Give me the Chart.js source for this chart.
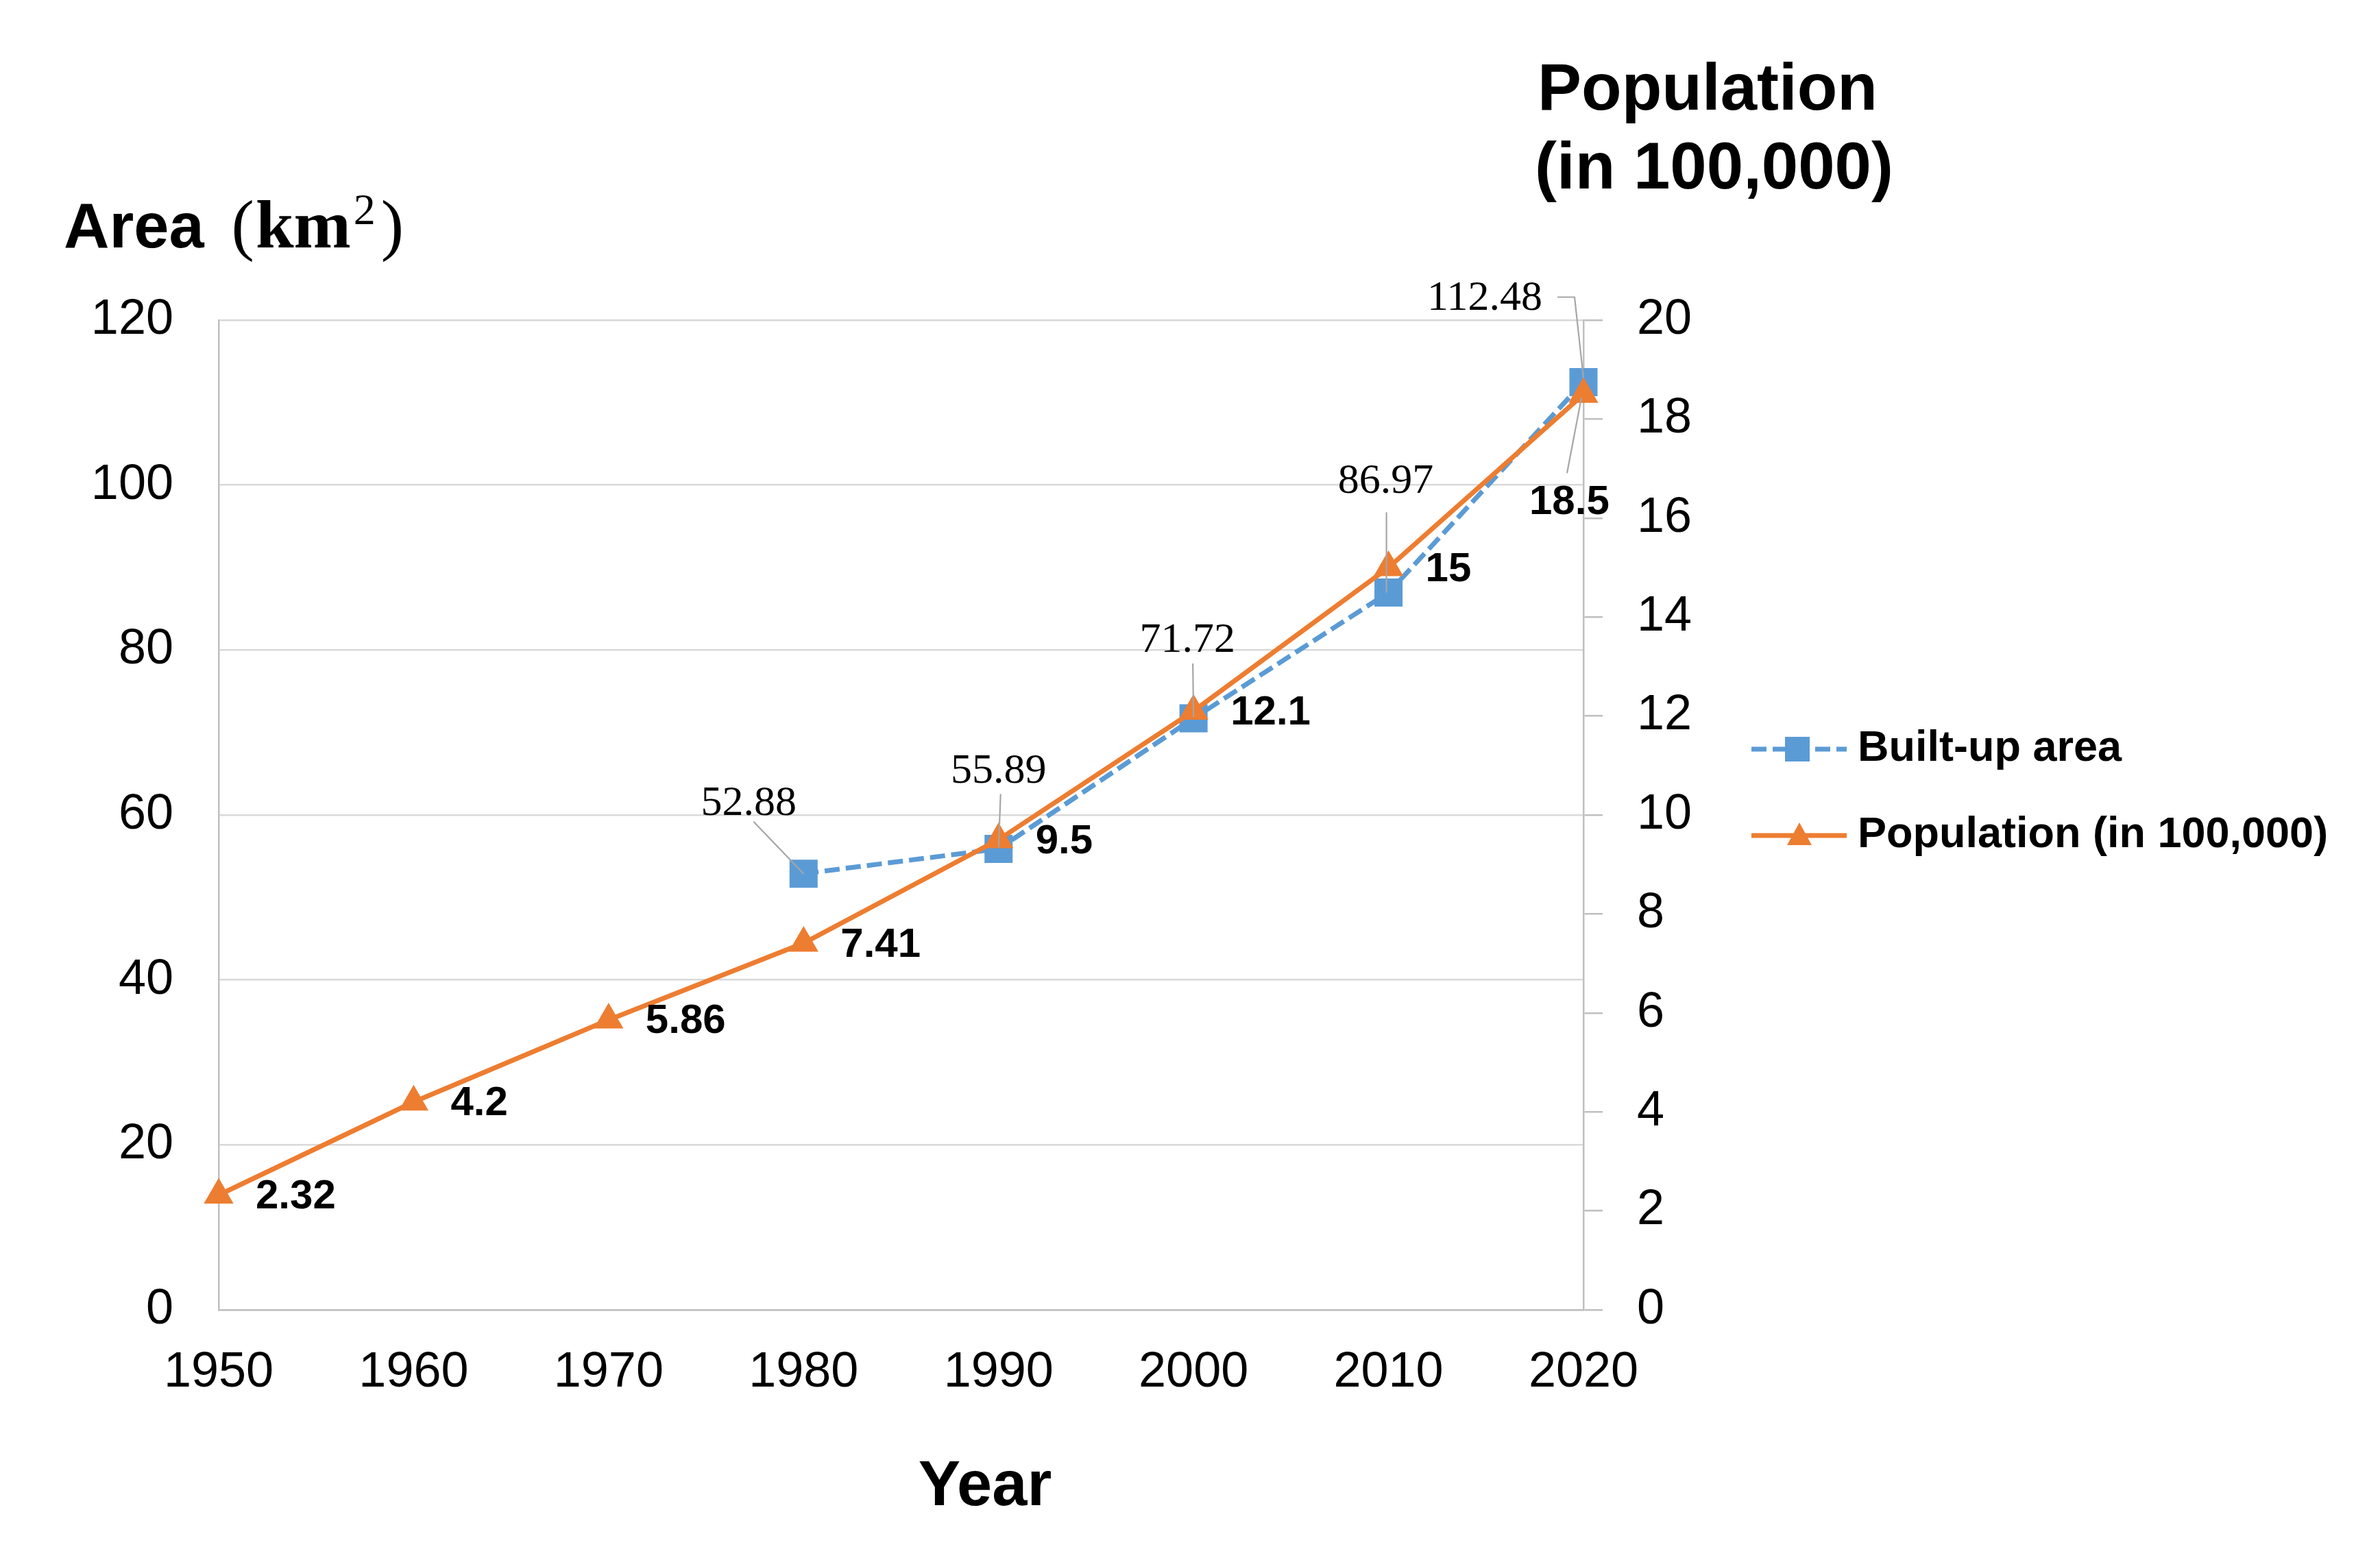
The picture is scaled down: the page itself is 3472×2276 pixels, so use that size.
<!DOCTYPE html>
<html><head><meta charset="utf-8">
<script src="https://cdn.jsdelivr.net/npm/chart.js@4"></script>
<style>html,body{margin:0;padding:0;background:#fff;overflow:hidden}#wrap{width:3472px;height:2276px;position:relative}</style>
</head><body><div id="wrap"><canvas id="c"></canvas></div>
<script>
// ---- data ----
const years = ['1950','1960','1970','1980','1990','2000','2010','2020'];
const builtUpArea = [null, null, null, 52.88, 55.89, 71.72, 86.97, 112.48];
const population = [2.32, 4.2, 5.86, 7.41, 9.5, 12.1, 15, 18.5];
const areaAxis = {min: 0, max: 120, step: 20};
const popAxis = {min: 0, max: 20, step: 2};
const seriesNames = ['Built-up area', 'Population (in 100,000)'];

// ---- styles ----
const SANS = '"Liberation Sans", Arial, sans-serif';
const SERIF = '"Liberation Serif", "Times New Roman", serif';
const BLUE = '#5B9BD5', ORANGE = '#ED7D31', GRID = '#d9d9d9', AXIS = '#bfbfbf', LEAD = '#a6a6a6';

// label placement offsets (px, relative to the point drawn by Chart.js)
const areaLabelPos = {
  3: {dx: -80, dy: -102, lead: [[-73, -76], [0, 0]]},
  4: {dx: 0,   dy: -113, lead: [[3, -80], [0, -2]]},
  5: {dx: -9,  dy: -113, lead: [[-1, -80], [0, -2]]},
  6: {dx: -4,  dy: -162, lead: [[-3, -117], [-3, 0]]},
  7: {dx: -144, dy: -122, lead: [[-38, -124], [-13, -124], [0, -6]]}
};
const popLabelPos = {7: {dx: -79, dy: 158, lead: [[-24, 115], [-3, 5]]}};

const labelPlugin = {
  id: 'labels',
  afterDatasetsDraw(chart) {
    const ctx = chart.ctx;
    ctx.save();
    const mA = chart.getDatasetMeta(0);
    ctx.strokeStyle = LEAD; ctx.lineWidth = 2.2;
    builtUpArea.forEach((v, i) => {
      if (v == null) return;
      const p = mA.data[i], s = areaLabelPos[i];
      ctx.beginPath();
      s.lead.forEach((q, k) => k ? ctx.lineTo(p.x + q[0], p.y + q[1]) : ctx.moveTo(p.x + q[0], p.y + q[1]));
      ctx.stroke();
      ctx.fillStyle = '#000'; ctx.font = '62px ' + SERIF;
      ctx.textAlign = 'center'; ctx.textBaseline = 'middle';
      ctx.fillText(String(v), p.x + s.dx, p.y + s.dy);
    });
    const mP = chart.getDatasetMeta(1);
    population.forEach((v, i) => {
      const p = mP.data[i];
      const s = popLabelPos[i] || {dx: 54, dy: 3};
      if (s.lead) {
        ctx.beginPath();
        s.lead.forEach((q, k) => k ? ctx.lineTo(p.x + q[0], p.y + q[1]) : ctx.moveTo(p.x + q[0], p.y + q[1]));
        ctx.stroke();
      }
      ctx.fillStyle = '#000'; ctx.font = 'bold 60px ' + SANS;
      ctx.textAlign = 'left'; ctx.textBaseline = 'middle';
      ctx.fillText(String(v), p.x + s.dx, p.y + s.dy);
    });
    ctx.restore();
  },
  afterDraw(chart) {
    const ctx = chart.ctx;
    ctx.save();
    ctx.fillStyle = '#000';
    ctx.textBaseline = 'alphabetic'; ctx.textAlign = 'left';
    // left axis title: Area (km²)
    let x = 93; const by = 361;
    ctx.font = 'bold 92px ' + SANS; ctx.fillText('Area', x, by); x += ctx.measureText('Area').width + 40;
    ctx.font = '100px ' + SERIF; ctx.fillText('(', x, by); x += ctx.measureText('(').width + 2;
    ctx.font = 'bold 100px ' + SERIF; ctx.fillText('km', x, by); x += ctx.measureText('km').width + 4;
    ctx.font = '64px ' + SERIF; ctx.fillText('2', x, by - 34); x += ctx.measureText('2').width + 8;
    ctx.font = '100px ' + SERIF; ctx.fillText(')', x, by);
    // right axis title
    ctx.font = 'bold 96px ' + SANS;
    ctx.fillText('Population', 2243, 160);
    ctx.fillText('(in 100,000)', 2239, 275);
    // x axis title
    ctx.textAlign = 'center'; ctx.font = 'bold 92px ' + SANS;
    ctx.fillText('Year', 1437, 2196);
    // legend
    const ds = chart.data.datasets;
    const rows = [1093, 1219];
    ds.forEach((d, i) => {
      const y = rows[i];
      ctx.strokeStyle = d.borderColor; ctx.lineWidth = d.borderWidth;
      ctx.setLineDash(d.borderDash || []);
      ctx.beginPath(); ctx.moveTo(2555, y); ctx.lineTo(2694, y); ctx.stroke();
      ctx.setLineDash([]);
      ctx.fillStyle = d.pointBackgroundColor;
      ctx.beginPath();
      if (d.pointStyle === 'rect') { ctx.rect(2622 - 18, y - 18, 36, 36); }
      else { ctx.moveTo(2625, y - 19); ctx.lineTo(2643, y + 14); ctx.lineTo(2607, y + 14); ctx.closePath(); }
      ctx.fill();
      ctx.fillStyle = '#000'; ctx.font = 'bold 63px ' + SANS;
      ctx.textAlign = 'left'; ctx.textBaseline = 'middle';
      ctx.fillText(d.label, 2710, y);
    });
    ctx.restore();
  }
};

new Chart(document.getElementById('c'), {
  type: 'line',
  data: {
    labels: years,
    datasets: [
      {label: seriesNames[0], data: builtUpArea, yAxisID: 'y', borderColor: BLUE, backgroundColor: BLUE,
       borderWidth: 7, borderDash: [22, 9], pointStyle: 'rect', pointRadius: 29, pointHoverRadius: 29,
       pointBackgroundColor: BLUE, pointBorderWidth: 0, order: 2, clip: false, tension: 0, spanGaps: false},
      {label: seriesNames[1], data: population, yAxisID: 'y1', borderColor: ORANGE, backgroundColor: ORANGE,
       borderWidth: 7, pointStyle: 'triangle', pointRadius: 25, pointHoverRadius: 25,
       pointBackgroundColor: ORANGE, pointBorderWidth: 0, order: 1, clip: false, tension: 0}
    ]
  },
  options: {
    responsive: true, maintainAspectRatio: false, animation: false, devicePixelRatio: 1,
    layout: {padding: {top: 467, left: 0, right: 962, bottom: 0}},
    plugins: {legend: {display: false}, tooltip: {enabled: false}, title: {display: false}},
    scales: {
      x: {
        type: 'category', offset: false,
        grid: {display: false},
        border: {display: true, color: AXIS, width: 2.5},
        ticks: {color: '#000', font: {family: SANS, size: 72}, padding: 41, maxRotation: 0, autoSkip: false},
        afterFit(s) { s.height = 365; }
      },
      y: {
        position: 'left', min: areaAxis.min, max: areaAxis.max,
        grid: {color: GRID, lineWidth: 2.5, drawTicks: false},
        border: {display: true, color: AXIS, width: 2.5},
        ticks: {stepSize: areaAxis.step, color: '#000', font: {family: SANS, size: 72}, padding: 66},
        afterFit(s) { s.width = 319; }
      },
      y1: {
        position: 'right', min: popAxis.min, max: popAxis.max,
        grid: {display: true, drawOnChartArea: false, drawTicks: true, tickLength: 28, color: AXIS, lineWidth: 2.5},
        border: {display: true, color: AXIS, width: 2.5},
        ticks: {stepSize: popAxis.step, color: '#000', font: {family: SANS, size: 72}, padding: 50},
        afterFit(s) { s.width = 200; }
      }
    }
  },
  plugins: [labelPlugin]
});
</script>
</body></html>
